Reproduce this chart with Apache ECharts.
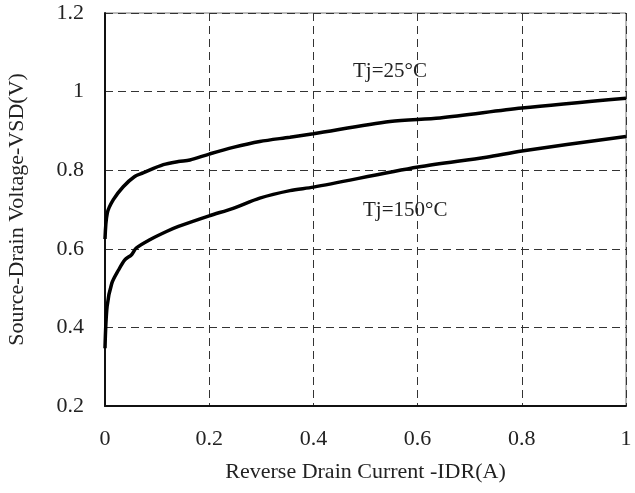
<!DOCTYPE html>
<html>
<head>
<meta charset="utf-8">
<script src="https://cdn.jsdelivr.net/npm/echarts@6/dist/echarts.min.js"></script>
<style>
  html, body { margin: 0; padding: 0; background: #fff; }
  #main { width: 635px; height: 493px; }
</style>
</head>
<body>
<div id="main"></div>
<script>
// Tj = 25°C curve
var current25 = [0, 0.0044, 0.016, 0.035, 0.057, 0.073, 0.112, 0.141, 0.163, 0.2, 0.246, 0.297, 0.355, 0.4, 0.547, 0.643, 0.8, 1.0];
var voltage25 = [0.625, 0.691, 0.725, 0.758, 0.784, 0.793, 0.814, 0.822, 0.826, 0.841, 0.858, 0.873, 0.884, 0.893, 0.924, 0.933, 0.958, 0.983];

// Tj = 150°C curve
var current150 = [0, 0.004, 0.013, 0.026, 0.038, 0.051, 0.060, 0.086, 0.118, 0.141, 0.2, 0.246, 0.297, 0.355, 0.4, 0.601, 0.732, 0.8, 1.0];
var voltage150 = [0.347, 0.453, 0.512, 0.546, 0.572, 0.585, 0.602, 0.623, 0.644, 0.657, 0.684, 0.703, 0.729, 0.748, 0.757, 0.808, 0.833, 0.849, 0.886];

var xTicks = [0, 0.2, 0.4, 0.6, 0.8, 1];
var yTicks = [0.2, 0.4, 0.6, 0.8, 1, 1.2];

function pairs(xs, ys) {
  return xs.map(function (x, i) { return [x, ys[i]]; });
}

var font = 'Liberation Serif';
var dashed = { show: true, lineStyle: { color: '#333', width: 1, type: [8, 5] } };

var option = {
  animation: false,
  textStyle: { fontFamily: font },
  grid: {
    left: 105, right: 9, top: 13, bottom: 87,
    outerBoundsMode: 'none', containLabel: false,
    show: true, borderColor: '#777', borderWidth: 1
  },
  xAxis: {
    type: 'value',
    min: xTicks[0], max: xTicks[xTicks.length - 1], interval: 0.2,
    name: 'Reverse Drain Current -IDR(A)',
    nameLocation: 'middle', nameGap: 55,
    nameTextStyle: { fontFamily: font, fontSize: 22, color: '#222' },
    axisLine: { show: true, onZero: false, lineStyle: { color: '#111', width: 2 } },
    axisTick: { show: false },
    axisLabel: {
      fontFamily: font, fontSize: 22, color: '#222', margin: 22,
      formatter: function (v) { return String(+v.toFixed(1)); }
    },
    splitLine: dashed
  },
  yAxis: {
    type: 'value',
    min: yTicks[0], max: yTicks[yTicks.length - 1], interval: 0.2,
    name: 'Source-Drain Voltage-VSD(V)',
    nameLocation: 'middle', nameGap: 77,
    nameTextStyle: { fontFamily: font, fontSize: 22, color: '#222' },
    axisLine: { show: true, onZero: false, lineStyle: { color: '#111', width: 2 } },
    axisTick: { show: false },
    axisLabel: {
      fontFamily: font, fontSize: 22, color: '#222', margin: 21,
      formatter: function (v) { return String(+v.toFixed(1)); }
    },
    splitLine: dashed
  },
  graphic: [
    { type: 'text', left: 353, top: 61,
      style: { text: 'Tj=25°C', font: '21px "Liberation Serif"', fill: '#222' } },
    { type: 'text', left: 363, top: 200,
      style: { text: 'Tj=150°C', font: '21px "Liberation Serif"', fill: '#222' } }
  ],
  series: [
    {
      name: 'Tj=25°C', type: 'line', data: pairs(current25, voltage25),
      showSymbol: false, smooth: 0.3,
      lineStyle: { color: '#000', width: 3.5 }
    },
    {
      name: 'Tj=150°C', type: 'line', data: pairs(current150, voltage150),
      showSymbol: false, smooth: 0.3,
      lineStyle: { color: '#000', width: 3.5 }
    }
  ]
};

var chart = echarts.init(document.getElementById('main'));
chart.setOption(option);
</script>
</body>
</html>
